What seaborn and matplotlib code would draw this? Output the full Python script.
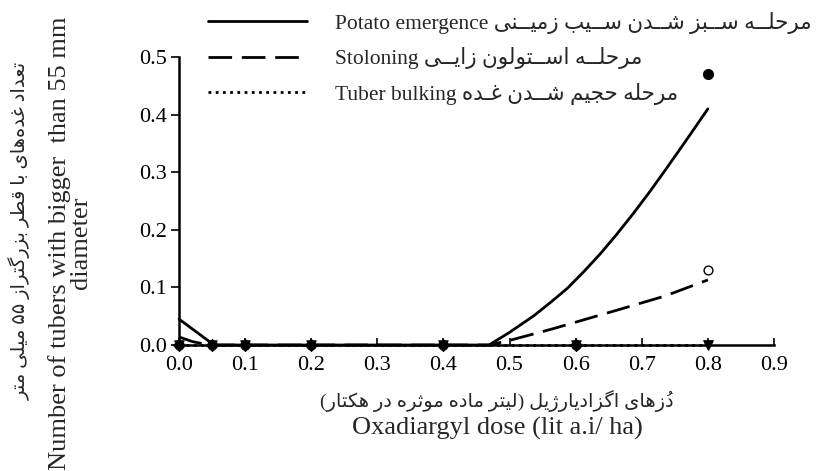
import numpy as np
import pandas as pd
import seaborn as sns
import matplotlib.pyplot as plt

sns.set_style('ticks')
plt.rcParams['font.family'] = ['Liberation Serif', 'DejaVu Sans']

# observed values
doses = [0.0, 0.05, 0.1, 0.2, 0.4, 0.6, 0.8]
obs_emergence = [0.0, 0.0, 0.0, 0.0, 0.0, 0.0, 0.47]
obs_stoloning = [0.0, 0.0, 0.0, 0.0, 0.0, 0.0, 0.13]
obs_bulking = [0.0, 0.0, 0.0, 0.0, 0.0, 0.0, 0.0]

# fitted curves, points
fit_emergence_x = [0.0, 0.053, 0.2, 0.4, 0.469, 0.5, 0.537, 0.562, 0.587, 0.612, 0.637,
                   0.662, 0.687, 0.712, 0.737, 0.77, 0.8]
fit_emergence_y = [0.045, 0.0, 0.0, 0.0, 0.0, 0.022, 0.051, 0.074, 0.098, 0.127, 0.158,
                   0.192, 0.228, 0.266, 0.306, 0.360, 0.410]
fit_stoloning_x = [0.0, 0.02, 0.045, 0.2, 0.4, 0.469, 0.5, 0.565, 0.616, 0.667, 0.735, 0.8]
fit_stoloning_y = [0.014, 0.006, 0.0, 0.0, 0.0, 0.0, 0.008, 0.028, 0.045, 0.062, 0.085, 0.113]
fit_bulking_x = [0.0, 0.8]
fit_bulking_y = [0.0, 0.0]

stages = ['Potato emergence', 'Stoloning', 'Tuber bulking']
stage_fa = ['مرحلــه ســبز شــدن ســیب زمیــنی',
            'مرحلــه اســتولون زایــی',
            'مرحله حجیم شــدن غـده']
ylab_fa = 'تعداد غده‌های با قطر بزرگتراز ۵۵ میلی متر'
ylab_en = 'Number of tubers with bigger  than 55 mm\ndiameter'
xlab_fa = 'دُزهای اگزادیارژیل (لیتر ماده موثره در هکتار)'
xlab_en = 'Oxadiargyl dose (lit a.i/ ha)'

# matplotlib has no arabic shaping, so pick presentation forms and reverse
DUAL = {0x0628: 0xFE8F, 0x062A: 0xFE95, 0x062B: 0xFE99, 0x062C: 0xFE9D, 0x062D: 0xFEA1,
        0x062E: 0xFEA5, 0x0633: 0xFEB1, 0x0634: 0xFEB5, 0x0635: 0xFEB9, 0x0636: 0xFEBD,
        0x0637: 0xFEC1, 0x0638: 0xFEC5, 0x0639: 0xFEC9, 0x063A: 0xFECD, 0x0641: 0xFED1,
        0x0642: 0xFED5, 0x0644: 0xFEDD, 0x0645: 0xFEE1, 0x0646: 0xFEE5, 0x0647: 0xFEE9,
        0x06CC: 0xFBFC, 0x06A9: 0xFB8E, 0x06AF: 0xFB92, 0x067E: 0xFB56, 0x0686: 0xFB7A}
RIGHT = {0x0627: 0xFE8D, 0x062F: 0xFEA9, 0x0630: 0xFEAB, 0x0631: 0xFEAD, 0x0632: 0xFEAF,
         0x0648: 0xFEED, 0x0698: 0xFB8A}


def jtype(c):
    o = ord(c)
    if o in DUAL or o == 0x0640:
        return 'D'
    if o in RIGHT:
        return 'R'
    if 0x064B <= o <= 0x0652:
        return 'T'
    return 'U'


def farsi(text):
    n = len(text)
    clusters = []
    for i, c in enumerate(text):
        t = jtype(c)
        o = ord(c)
        if o == 0x200C:
            continue
        if t in 'DR' and o != 0x0640:
            j = i - 1
            while j >= 0 and jtype(text[j]) == 'T':
                j -= 1
            prev = j >= 0 and jtype(text[j]) == 'D'
            k = i + 1
            while k < n and jtype(text[k]) == 'T':
                k += 1
            nxt = t == 'D' and k < n and jtype(text[k]) in 'DR'
            base = DUAL.get(o, RIGHT.get(o))
            if prev and nxt:
                c = chr(base + 3)
            elif prev:
                c = chr(base + 1)
            elif nxt:
                c = chr(base + 2)
            else:
                c = chr(base)
        if t == 'T' and clusters:
            clusters[-1] = c + clusters[-1]   # mark first, so it sits over its letter
        else:
            clusters.append(c)
    mirror = {'(': ')', ')': '('}
    return ''.join(mirror.get(c, c) for c in reversed(clusters))


fit = pd.concat([
    pd.DataFrame({'dose': fit_emergence_x, 'value': fit_emergence_y, 'stage': stages[0]}),
    pd.DataFrame({'dose': fit_stoloning_x, 'value': fit_stoloning_y, 'stage': stages[1]}),
    pd.DataFrame({'dose': fit_bulking_x, 'value': fit_bulking_y, 'stage': stages[2]}),
])

fig = plt.figure(figsize=(8.2, 4.71), dpi=100)
ax = fig.add_axes([0.2183, 0.2675, 0.7256, 0.6115])

sns.lineplot(data=fit, x='dose', y='value', hue='stage', style='stage',
             palette=['black'] * 3, dashes={stages[0]: '', stages[1]: (8.5, 3.5), stages[2]: (1, 1.6)},
             estimator=None, sort=False, linewidth=2.0, ax=ax, clip_on=False)
handles, _ = ax.get_legend_handles_labels()
ax.get_legend().remove()

sns.scatterplot(x=doses, y=obs_bulking, marker='v', s=45, color='black', edgecolor='black',
                linewidth=0.8, ax=ax, clip_on=False, zorder=4, legend=False)
sns.scatterplot(x=doses, y=obs_stoloning, marker='o', s=40, color='white', edgecolor='black',
                linewidth=1.0, ax=ax, clip_on=False, zorder=4, legend=False)
sns.scatterplot(x=doses[:-1], y=obs_emergence[:-1], marker='D', s=40, color='black',
                edgecolor='black', linewidth=0.5, ax=ax, clip_on=False, zorder=5, legend=False)
sns.scatterplot(x=doses[-1:], y=obs_emergence[-1:], marker='o', s=55, color='black',
                edgecolor='black', ax=ax, zorder=6, legend=False)
sns.scatterplot(x=doses[-1:], y=obs_bulking[-1:], marker='v', s=45, color='black',
                edgecolor='black', ax=ax, zorder=6, clip_on=False, legend=False)
if ax.get_legend() is not None:
    ax.get_legend().remove()

ax.set_xlim(0, 0.9)
ax.set_ylim(0, 0.5)
ax.set_xticks(np.arange(0, 0.91, 0.1))
ax.set_yticks(np.arange(0, 0.51, 0.1))
ax.xaxis.set_major_formatter(plt.FormatStrFormatter('%.1f'))
ax.yaxis.set_major_formatter(plt.FormatStrFormatter('%.1f'))
ax.set_xlabel('')
ax.set_ylabel('')
sns.despine(ax=ax)
for s in ['left', 'bottom']:
    ax.spines[s].set_linewidth(1.8)
    ax.spines[s].set_color('black')
ax.tick_params(axis='x', direction='in', length=5, width=1.2, labelsize=16, pad=8, colors='black')
ax.tick_params(axis='y', direction='out', length=6, width=1.2, labelsize=16, pad=3, colors='black')

fam = ['Liberation Serif', 'DejaVu Sans']
fig.text(0.0244, 0.5096, farsi(ylab_fa), rotation=90, ha='center', va='center', fontsize=14, family=fam)
fig.text(0.0854, 0.484, ylab_en, rotation=90, ha='center', va='center', fontsize=19,
         family=fam, multialignment='center', linespacing=0.95)
fig.text(0.606, 1 - 401 / 471, farsi(xlab_fa), ha='center', va='center', fontsize=14, family=fam)
fig.text(0.606, 1 - 428 / 471, xlab_en, ha='center', va='center', fontsize=19, family=fam)

labels = [en + ' ' + farsi(fa) for en, fa in zip(stages, stage_fa)]
fig.legend(handles, labels, loc='upper left', bbox_to_anchor=(208 / 820, 1 - 12 / 471),
           frameon=False, handlelength=4.6, handletextpad=1.3,
           labelspacing=0.62, borderpad=0, borderaxespad=0, prop={'family': fam, 'size': 15.5})

fig.savefig('out.png', dpi=100)
